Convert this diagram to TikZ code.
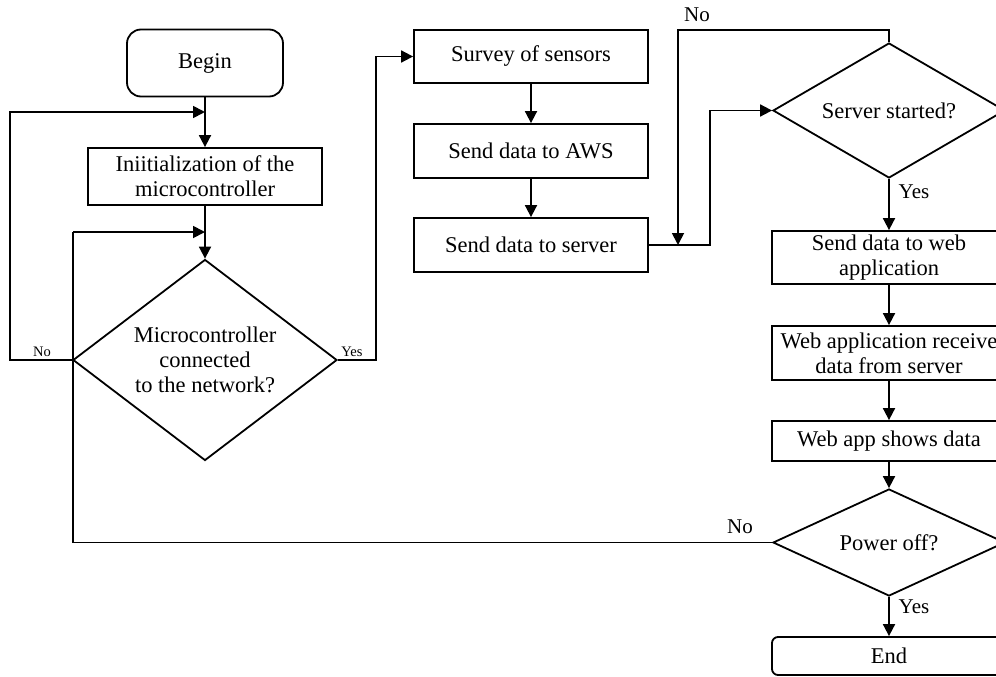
\documentclass[tikz,border=0pt]{standalone}
\usepackage{fontspec}
\setmainfont{Liberation Serif}
\usetikzlibrary{arrows.meta,shapes.geometric}
\tikzset{
  base/.style={draw, line width=1.8pt, inner sep=0pt, align=center, font=\fontsize{22.5}{25}\selectfont},
  proc/.style={base, rectangle, minimum width=234pt},
  term/.style={base, rectangle, rounded corners=14pt},
  dec/.style={base, diamond},
  arr/.style={line width=1.8pt, -{Triangle[length=12pt,width=12pt]}},
  ln/.style={line width=1.8pt},
  lbl/.style={font=\fontsize{21}{24}\selectfont},
  slbl/.style={font=\fontsize{14.5}{16}\selectfont}
}
\begin{document}
\begin{tikzpicture}[x=1pt,y=-1pt]
\useasboundingbox (0,0) rectangle (996,677);
\clip (0,0) rectangle (996,677);
% left column
\node[term, minimum width=156pt, minimum height=67pt] (begin) at (205,63) {Begin};
\node[proc, minimum height=57pt] (init) at (205,176.5) {Iniitialization of the\\microcontroller};
\node[dec, aspect=1.31, minimum width=264pt, minimum height=201pt] (d1) at (205,360) {Microcontroller\\connected\\to the network?};
% middle column
\node[proc, minimum height=53pt] (survey) at (531,56.5) {Survey of sensors};
\node[proc, minimum height=54pt] (aws) at (531,151) {Send data to AWS};
\node[proc, minimum height=54pt] (server) at (531,245) {Send data to server};
% right column
\node[dec, aspect=1.72, minimum width=232pt, minimum height=135pt] (d2) at (889,110.5) {Server started?};
\node[proc, minimum height=53pt] (web) at (889,257.5) {Send data to web\\application};
\node[proc, minimum height=54pt] (recv) at (889,353) {Web application receive\\data from server};
\node[proc, minimum height=40pt] (shows) at (889,441) {Web app shows data};
\node[dec, aspect=2.17, minimum width=232pt, minimum height=107pt] (d3) at (889,542.5) {Power off?};
\node[term, minimum width=234pt, minimum height=38pt, rounded corners=6pt] (end) at (889,656) {End};
% junction coordinates
\coordinate (j1) at (205,112);
\coordinate (j2) at (205,232);
\coordinate (j3) at (678,245);
% connectors
\draw[arr] (begin) -- (init);
\draw[arr] (init) -- (d1);
\draw[arr] (d1.west) -- (10,360) |- (j1);
\draw[arr] (d1.east) -- (376,360) |- (survey.west);
\draw[arr] (survey) -- (aws);
\draw[arr] (aws) -- (server);
\draw[arr] (server.east) -- (710,245) |- (d2.west);
\draw[arr] (d2.north) -- (889,30) -| (j3);
\draw[arr] (d2) -- (web);
\draw[arr] (web) -- (recv);
\draw[arr] (recv) -- (shows);
\draw[arr] (shows) -- (d3);
\draw[arr] (d3) -- (end);
\draw[ln] (d3.west) -| (73,232);
\draw[arr] (73,232) -- (j2);
% labels
\node[slbl] (lno1) at (42,352) {No};
\node[slbl] (lyes1) at (352,352) {Yes};
\node[lbl] (lno2) at (697,15) {No};
\node[lbl] (lyes2) at (914,192) {Yes};
\node[lbl] (lno3) at (740,527) {No};
\node[lbl] (lyes3) at (914,607) {Yes};
\end{tikzpicture}
\end{document}
